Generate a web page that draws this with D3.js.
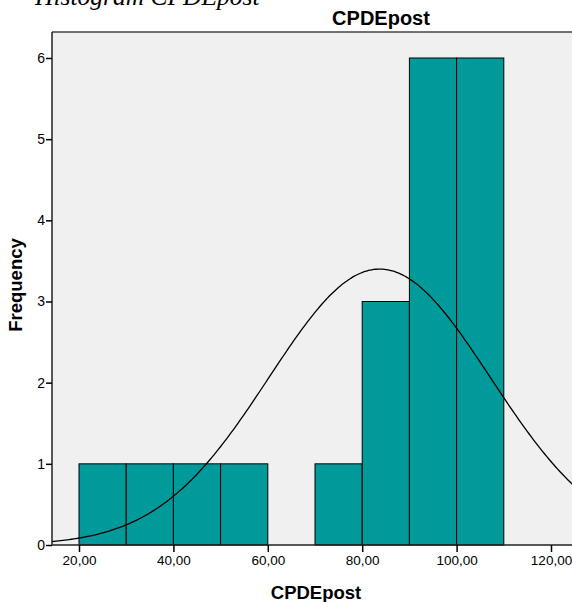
<!DOCTYPE html>
<html><head><meta charset="utf-8">
<script src="https://cdn.jsdelivr.net/npm/d3@7"></script>
<style>body{margin:0;background:#fff}svg{display:block}</style>
</head><body>
<svg id="c" width="572" height="602"></svg>
<script>
const binStarts = [20, 30, 40, 50, 60, 70, 80, 90, 100];
const counts    = [1, 1, 1, 1, 0, 1, 3, 6, 6];
const binWidth = 10;
const xTicks = [20, 40, 60, 80, 100, 120];
const yTicks = [0, 1, 2, 3, 4, 5, 6];
const curveMean = 83.7, curveSD = 23.47;
const N = d3.sum(counts);

const svg = d3.select("#c");
const L = 52, T = 32, R = 700, B = 545;
const x = d3.scaleLinear().domain([20, 120]).range([79, 551]);
const xMin = x.invert(L), xMax = x.invert(R);
const y = d3.scaleLinear().domain([0, 6]).range([B, 58]);

svg.append("rect").attr("x", L).attr("y", T).attr("width", R - L).attr("height", B - T).attr("fill", "#f0f0f0");

svg.append("g").selectAll("rect").data(binStarts.map((s, i) => ({s, c: counts[i]})).filter(d => d.c > 0))
  .join("rect")
  .attr("x", d => x(d.s)).attr("width", d => x(d.s + binWidth) - x(d.s))
  .attr("y", d => y(d.c)).attr("height", d => y(0) - y(d.c))
  .attr("fill", "#009a9a").attr("stroke", "#000").attr("stroke-width", 1);

// normal curve
const pts = d3.range(0, 301).map(i => xMin + (xMax - xMin) * i / 300);
const dens = v => N * binWidth / (curveSD * Math.sqrt(2 * Math.PI)) * Math.exp(-0.5 * Math.pow((v - curveMean) / curveSD, 2));
svg.append("path").attr("d", d3.line().x(v => x(v)).y(v => y(dens(v))).curve(d3.curveBasis)(pts))
  .attr("fill", "none").attr("stroke", "#000").attr("stroke-width", 1.3);

// frame
svg.append("line").attr("x1", L).attr("x2", R).attr("y1", T).attr("y2", T).attr("stroke", "#444").attr("stroke-width", 1.3);

const ya = svg.append("g").attr("transform", `translate(${L},0)`)
  .call(d3.axisLeft(y).tickValues(yTicks).tickSize(6).tickSizeOuter(0).tickFormat(d3.format("d")));
ya.select(".domain").attr("d", `M0,${T}V${B}`).attr("stroke", "#222").attr("stroke-width", 1.5);
ya.selectAll(".tick line").attr("stroke", "#000").attr("stroke-width", 1.5);
ya.selectAll(".tick text").attr("font-family", "Liberation Sans, Arial, sans-serif").attr("font-size", 14).attr("fill", "#000").attr("x", -7);

const xa = svg.append("g").attr("transform", `translate(0,${B})`)
  .call(d3.axisBottom(x).tickValues(xTicks).tickSize(7).tickSizeOuter(0).tickFormat(d => d3.format(".2f")(d).replace(".", ",")));
xa.select(".domain").attr("d", `M${L},0H${R}`).attr("stroke", "#222").attr("stroke-width", 1.5);
xa.selectAll(".tick line").attr("stroke", "#000").attr("stroke-width", 1.5);
xa.selectAll(".tick text").attr("font-family", "Liberation Sans, Arial, sans-serif").attr("font-size", 13.5).attr("fill", "#000").attr("y", 10);

svg.append("text").attr("x", 381).attr("y", 25).attr("text-anchor", "middle")
  .attr("font-family", "Liberation Sans, Arial, sans-serif").attr("font-weight", "bold").attr("font-size", 20).text("CPDEpost");
svg.append("text").attr("x", 316).attr("y", 599).attr("text-anchor", "middle")
  .attr("font-family", "Liberation Sans, Arial, sans-serif").attr("font-weight", "bold").attr("font-size", 18.5).text("CPDEpost");
svg.append("text").attr("transform", "translate(22,285) rotate(-90)").attr("text-anchor", "middle")
  .attr("font-family", "Liberation Sans, Arial, sans-serif").attr("font-weight", "bold").attr("font-size", 18.5).text("Frequency");
svg.append("text").attr("x", 35).attr("y", 5)
  .attr("font-family", "Liberation Serif, Times New Roman, serif").attr("font-style", "italic").attr("font-size", 25.5).text("Histogram CPDEpost");
</script>
</body></html>
